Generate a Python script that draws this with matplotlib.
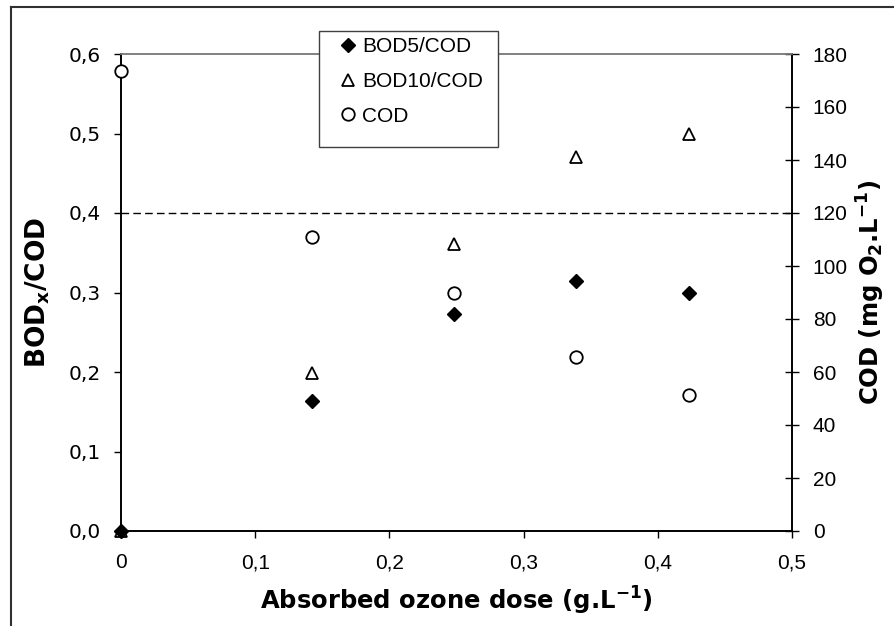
import matplotlib
matplotlib.use("Agg")
import matplotlib.pyplot as plt
from matplotlib.lines import Line2D
from matplotlib.patches import Rectangle
from matplotlib.ticker import FixedLocator, FuncFormatter

plt.rcParams['font.family'] = ['Liberation Sans', 'DejaVu Sans']
plt.rcParams['mathtext.fontset'] = 'custom'
plt.rcParams['mathtext.rm'] = 'DejaVu Sans'
plt.rcParams['mathtext.bf'] = 'DejaVu Sans:bold'

# absorbed ozone dose (g/L)
dose = [0.0, 0.142, 0.248, 0.339, 0.423]
bod5_cod = [0.0, 0.163, 0.273, 0.315, 0.300]
bod10_cod = [0.0, 0.199, 0.361, 0.470, 0.500]
cod = [173.5, 110.8, 89.7, 65.5, 51.5]   # mg O2/L
threshold = 0.4

x_ticks = [0, 0.1, 0.2, 0.3, 0.4, 0.5]
ratio_ticks = [0, 0.1, 0.2, 0.3, 0.4, 0.5, 0.6]
cod_ticks = [0, 20, 40, 60, 80, 100, 120, 140, 160, 180]


def comma(v, pos=None):
    return '0' if v == 0 else f'{v:.1f}'.replace('.', ',')


def comma_ratio(v, pos=None):
    return f'{v:.1f}'.replace('.', ',')


W, H = 895, 626
fig = plt.figure(figsize=(W / 100, H / 100), dpi=100)
ax = fig.add_axes([121 / W, 1 - 531 / H, 671 / W, 477 / H])
ax2 = ax.twinx()

ax.set_xlim(0, 0.5)
ax.set_ylim(0, 0.6)
ax2.set_ylim(0, 180)

ax.axhline(threshold, color='black', lw=1.0, dashes=(5.5, 3), zorder=1)

mk = dict(linestyle='none', clip_on=False, zorder=5)
ax.plot(dose, bod10_cod, marker='^', ms=9, mfc='white', mec='black', mew=1.3,
        label='BOD10/COD', **mk)
ax.plot(dose, bod5_cod, marker='D', ms=7, mfc='black', mec='black',
        label='BOD5/COD', **mk)
ax2.plot(dose, cod, marker='o', ms=9, mfc='white', mec='black', mew=1.3,
         label='COD', **mk)

# axes styling
for a in (ax, ax2):
    a.spines['top'].set_color('#808080')
    a.spines['top'].set_linewidth(1.2)
    for s in ('left', 'right', 'bottom'):
        a.spines[s].set_color('black')
        a.spines[s].set_linewidth(1.2)
ax.xaxis.set_major_locator(FixedLocator(x_ticks))
ax.xaxis.set_major_formatter(FuncFormatter(comma))
ax.yaxis.set_major_locator(FixedLocator(ratio_ticks))
ax.yaxis.set_major_formatter(FuncFormatter(comma_ratio))
ax2.yaxis.set_major_locator(FixedLocator(cod_ticks))

ax.tick_params(axis='x', direction='out', length=5, width=1, pad=11, labelsize=15)
ax.tick_params(axis='y', direction='out', length=5, width=1, pad=9.4,
               labelsize=14.5, labelfontfamily='DejaVu Sans')
ax2.tick_params(axis='y', direction='inout', length=10, width=1, pad=10,
                labelsize=15)

lab = dict(fontsize=17.5, fontweight='bold', family='DejaVu Sans')
ax.set_xlabel(r'Absorbed ozone dose (g.L$^{\mathbf{-1}}$)', **lab)
ax.xaxis.set_label_coords(0.5, -0.112)
ax.set_ylabel(r'BOD$_{\mathbf{x}}$/COD', fontsize=19, fontweight='bold',
              family='DejaVu Sans')
ax.yaxis.set_label_coords(-0.103, 0.5)
ax2.set_ylabel(r'COD (mg O$_{\mathbf{2}}$.L$^{\mathbf{-1}}$)', **lab)
ax2.yaxis.set_label_coords(1.094, 0.5)

# legend: plain box drawn separately so it can be taller than the entries
fig.add_artist(Rectangle((319 / W, 1 - 147 / H), 179 / W, 116 / H,
                         transform=fig.transFigure, facecolor='white',
                         edgecolor='#404040', lw=1.0, zorder=4))
handles = [
    Line2D([], [], ls='none', marker='D', ms=7, mfc='black', mec='black'),
    Line2D([], [], ls='none', marker='^', ms=9, mfc='white', mec='black', mew=1.3),
    Line2D([], [], ls='none', marker='o', ms=9, mfc='white', mec='black', mew=1.3),
]
leg = fig.legend(handles, ['BOD5/COD', 'BOD10/COD', 'COD'],
                 loc='upper left', bbox_to_anchor=(319 / W, 1 - 31 / H),
                 bbox_transform=fig.transFigure, fontsize=15, frameon=False,
                 handlelength=2.2, handletextpad=-0.42, labelspacing=0.75,
                 borderpad=0.3, borderaxespad=0)
leg.set_zorder(5)

# outer frame
fig.add_artist(Line2D([11 / W, 11 / W], [0, 1 - 7 / H], color='#303030',
                      lw=1.5, transform=fig.transFigure))
fig.add_artist(Line2D([11 / W, 1], [1 - 7 / H, 1 - 7 / H], color='#303030',
                      lw=1.5, transform=fig.transFigure))

fig.savefig('out.png', dpi=100)
